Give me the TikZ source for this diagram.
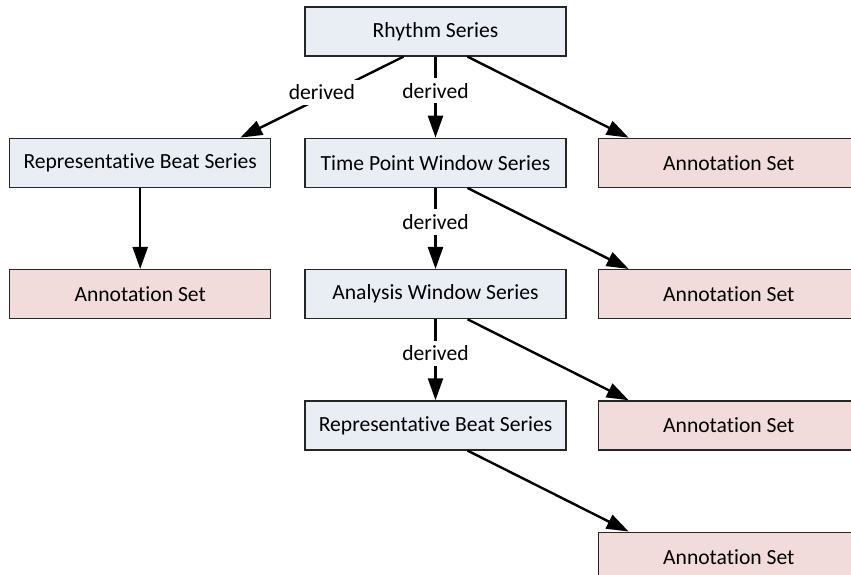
\documentclass[tikz,border=0pt]{standalone}
\usepackage{fontspec}
\setmainfont{Carlito}[Ligatures=NoCommon]
\usetikzlibrary{arrows.meta,positioning}
\definecolor{seriesfill}{RGB}{233,237,244}
\definecolor{annotfill}{RGB}{242,220,219}
\tikzset{
    box/.style={
        draw=black!85,
        line width=1.3pt,
        rectangle,
        minimum width=261pt,
        minimum height=49pt,
        inner sep=0pt,
        font=\fontsize{21.6}{25}\selectfont
    },
    series/.style={box, fill=seriesfill},
    annot/.style={box, fill=annotfill},
    link/.style={line width=2.4pt, -{Triangle[length=22pt,width=15pt]}},
    lbl/.style={fill=white, inner sep=5pt, font=\fontsize{21.6}{25}\selectfont}
}

\begin{document}
\begin{tikzpicture}[x=1pt,y=1pt]
  \useasboundingbox (0,0) rectangle (851,-575);

  \node[series] (RS) at (435.5,-31.5) {Rhythm Series};
  \node[series, below=81pt of RS] (TPW) {Time Point Window Series};
  \node[series, left=33pt of TPW] (RB1) {Representative Beat Series};
  \node[annot, right=31pt of TPW] (A1) {Annotation Set};
  \node[annot, below=81pt of RB1] (A2) {Annotation Set};
  \node[series, below=81pt of TPW] (AW) {Analysis Window Series};
  \node[annot, right=31pt of AW] (A3) {Annotation Set};
  \node[series, below=81pt of AW] (RB2) {Representative Beat Series};
  \node[annot, right=31pt of RB2] (A4) {Annotation Set};
  \node[annot, below=81pt of A4] (A5) {Annotation Set};

  \draw[link] ([xshift=-32pt]RS.south) -- node[lbl, yshift=5pt] {derived} ([xshift=-31pt]RB1.north east);
  \draw[link] (RS.south) -- node[lbl, pos=0.42] {derived} (TPW.north);
  \draw[link] ([xshift=32pt]RS.south) -- ([xshift=31pt]A1.north west);
  \draw[link] (RB1.south) -- (A2.north);

  \draw[link] (TPW.south) -- node[lbl, pos=0.42] {derived} (AW.north);
  \draw[link] ([xshift=32pt]TPW.south) -- ([xshift=31pt]A3.north west);

  \draw[link] (AW.south) -- node[lbl, pos=0.42] {derived} (RB2.north);
  \draw[link] ([xshift=32pt]AW.south) -- ([xshift=31pt]A4.north west);

  \draw[link] ([xshift=32pt]RB2.south) -- ([xshift=31pt]A5.north west);

\end{tikzpicture}
\end{document}
